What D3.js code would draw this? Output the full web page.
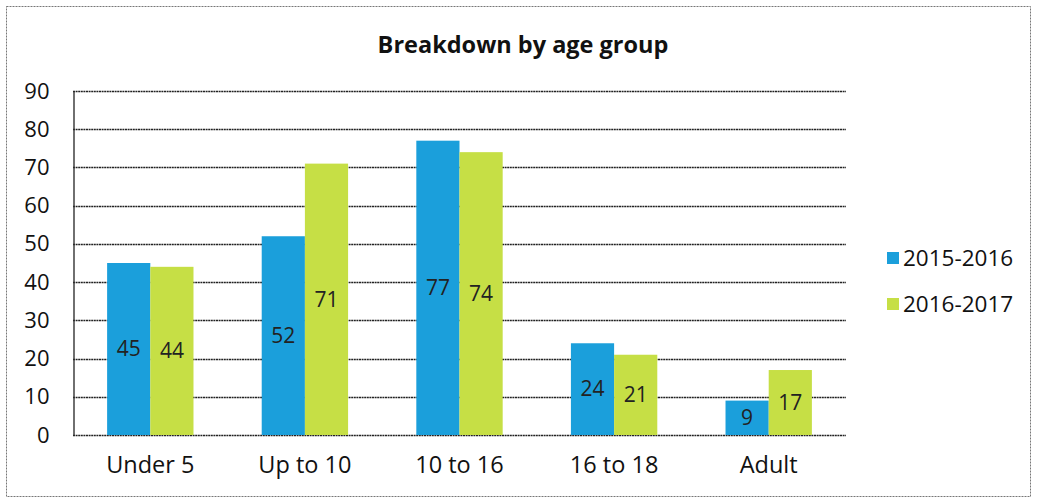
<!DOCTYPE html>
<html>
<head>
<meta charset="utf-8">
<script src="https://cdn.jsdelivr.net/npm/d3@7"></script>
<style>
  body { margin: 0; background: #fff; }
  svg { font-family: "Open Sans", "DejaVu Sans", sans-serif; }
</style>
</head>
<body>
<div id="chart"></div>
<script>
(function () {
  var categories = ["Under 5", "Up to 10", "10 to 16", "16 to 18", "Adult"];
  var seriesNames = ["2015-2016", "2016-2017"];
  var values2015 = [45, 52, 77, 24, 9];
  var values2016 = [44, 71, 74, 21, 17];
  var yTicks = [0, 10, 20, 30, 40, 50, 60, 70, 80, 90];
  var colors = ["#1b9fdb", "#c6df45"];

  var w = 1037,
      h = 499;

  var svg = d3.select("#chart")
      .append("svg")
      .attr("width", w)
      .attr("height", h);

  // outer frame
  svg.append("rect")
      .attr("x", 6.5).attr("y", 6.5)
      .attr("width", 1024).attr("height", 490)
      .attr("fill", "none")
      .attr("stroke", "#777")
      .attr("stroke-width", 1)
      .attr("stroke-dasharray", "2,1");

  svg.append("text")
      .attr("x", 523).attr("y", 53)
      .attr("text-anchor", "middle")
      .attr("font-size", "23.5px")
      .attr("font-weight", "bold")
      .attr("fill", "#111")
      .text("Breakdown by age group");

  var left = 73, right = 846, top = 91, bottom = 435;

  var x = d3.scaleBand()
      .domain(categories)
      .range([left, right]);

  var x1 = d3.scaleBand()
      .domain(seriesNames)
      .range([0, x.bandwidth()])
      .paddingOuter(0.79)
      .paddingInner(0);

  var y = d3.scaleLinear()
      .domain([0, 90])
      .range([bottom, top]);

  // gridlines
  svg.append("g")
      .selectAll("line")
      .data(yTicks)
      .enter()
      .append("line")
      .attr("x1", left).attr("x2", right)
      .attr("y1", function(d) { return Math.round(y(d)) + 0.5; })
      .attr("y2", function(d) { return Math.round(y(d)) + 0.5; })
      .attr("stroke", "#222")
      .attr("stroke-width", 1.6)
      .attr("stroke-dasharray", "2,0.6");

  // y axis
  var yAxis = svg.append("g")
      .attr("transform", "translate(" + (left + 0.5) + ",0)")
      .call(d3.axisLeft(y).tickValues(yTicks).tickSize(0).tickPadding(24));
  yAxis.select(".domain").attr("stroke", "#333").attr("stroke-width", 1.4);
  yAxis.selectAll("text")
      .attr("font-size", "22px")
      .attr("fill", "#111")
      .attr("font-family", "\"Open Sans\", sans-serif");

  // x axis labels
  var xAxis = svg.append("g")
      .attr("transform", "translate(0," + bottom + ")")
      .call(d3.axisBottom(x).tickSize(0).tickPadding(21));
  xAxis.select(".domain").remove();
  xAxis.selectAll("text")
      .attr("font-size", "23.5px")
      .attr("fill", "#111")
      .attr("font-family", "\"Open Sans\", sans-serif");

  var rows = categories.map(function(c, i) {
    return { cat: c, vals: [values2015[i], values2016[i]] };
  });

  var groups = svg.append("g")
      .selectAll("g")
      .data(rows)
      .enter()
      .append("g")
      .attr("transform", function(d) { return "translate(" + x(d.cat) + ",0)"; });

  groups.selectAll("rect")
      .data(function(d) {
        return d.vals.map(function(v, j) { return { s: seriesNames[j], v: v, j: j }; });
      })
      .enter()
      .append("rect")
      .attr("x", function(d) { return x1(d.s); })
      .attr("y", function(d) { return y(d.v); })
      .attr("width", x1.bandwidth())
      .attr("height", function(d) { return y(0) - y(d.v); })
      .attr("fill", function(d) { return colors[d.j]; });

  groups.selectAll("text")
      .data(function(d) {
        return d.vals.map(function(v, j) { return { s: seriesNames[j], v: v }; });
      })
      .enter()
      .append("text")
      .text(function(d) { return d.v; })
      .attr("x", function(d) { return x1(d.s) + x1.bandwidth() / 2; })
      .attr("y", function(d) { return (y(d.v) + y(0)) / 2; })
      .attr("dy", "0.35em")
      .attr("text-anchor", "middle")
      .attr("font-size", "21px")
      .attr("fill", "#222");

  // legend
  var legend = svg.append("g")
      .selectAll("g")
      .data(seriesNames)
      .enter()
      .append("g")
      .attr("transform", function(d, i) { return "translate(887," + (252 + i * 46) + ")"; });

  legend.append("rect")
      .attr("width", 12).attr("height", 12)
      .attr("fill", function(d, i) { return colors[i]; });

  legend.append("text")
      .attr("x", 16).attr("y", 6)
      .attr("dy", "0.35em")
      .attr("font-size", "22.5px")
      .attr("fill", "#111")
      .text(function(d) { return d; });
})();
</script>
</body>
</html>
